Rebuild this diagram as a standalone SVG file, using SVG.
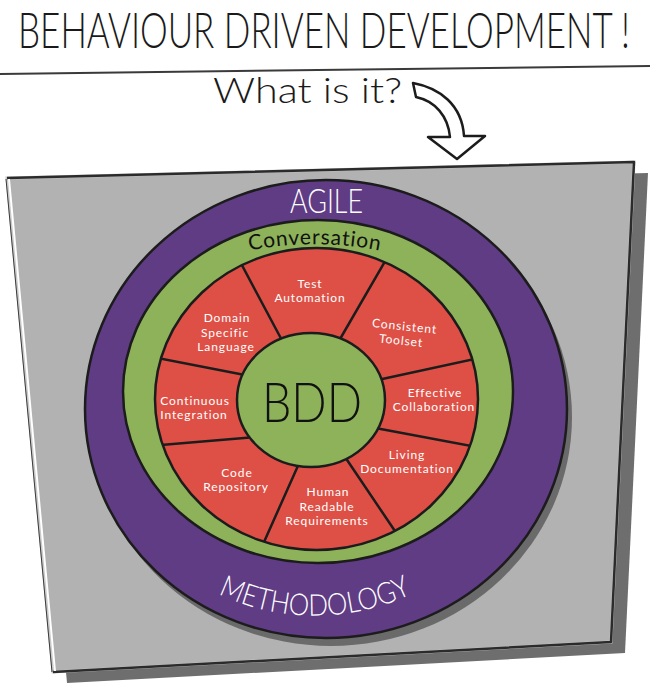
<svg xmlns="http://www.w3.org/2000/svg" width="650" height="691" viewBox="0 0 650 691">
  <style>
    .ink { fill: none; stroke: #1c1c1c; stroke-width: 2.5; stroke-linejoin: round; stroke-linecap: round; }
    .hand { font-family: "Lato", "Noto Sans", sans-serif; }
    .seg { font-family: "Lato", "Noto Sans", sans-serif; font-size: 12px; fill: #ffffff; text-anchor: middle; letter-spacing: 0.9px; }
    .divider { stroke: #1c1c1c; stroke-width: 2.5; stroke-linecap: round; }
  </style>
  <defs>
    <clipPath id="redClip">
      <ellipse cx="316.5" cy="399" rx="161.5" ry="151"/>
    </clipPath>
    <path id="convArc" d="M 235 254 A 330 330 0 0 1 395 254"/>
    <path id="methArc" d="M 205 587 A 225 225 0 0 0 425 587"/>
  </defs>

  <rect width="650" height="691" fill="#ffffff"/>

  <!-- heading: tall condensed capitals -->
  <g id="title">
    <text class="hand" transform="translate(18 48) scale(0.68 1)" x="0" y="0" font-size="50" font-weight="300" fill="#1a1a1a" textLength="900" lengthAdjust="spacingAndGlyphs">BEHAVIOUR DRIVEN DEVELOPMENT !</text>
    <line x1="0" y1="74" x2="650" y2="66" stroke="#3a3a3a" stroke-width="2"/>
  </g>

  <g id="subtitle">
    <text class="hand" x="213" y="103" font-size="36" font-weight="300" fill="#1a1a1a" textLength="189" lengthAdjust="spacingAndGlyphs">What is it?</text>
  </g>

  <!-- curved pointer from the question down to the board -->
  <g id="connectors">
    <path class="ink" d="M 413 83 C 440 88 462 105 464 136 L 485 136 L 457 159 L 428 137 L 450 137 C 448 116 435 101 416 97 Z" style="fill:#ffffff"/>
  </g>

  <!-- grey board with its drop shadow -->
  <g id="board">
    <polygon points="21,189 648,173 625,653 67,683" fill="#6e6e6e"/>
    <polygon points="7,178 634,162 611,642 53,672" fill="#b2b2b2" stroke="#c9c9c9" stroke-width="3"/>
    <polyline points="7,178 634,162 611,642 53,672" fill="none" stroke="#2b2b2b" stroke-width="2.5" stroke-linejoin="round"/>
    <line x1="9" y1="179" x2="55" y2="671" stroke="#ffffff" stroke-width="2"/>
    <line x1="6" y1="179" x2="52" y2="672" stroke="#3a3a3a" stroke-width="1"/>
  </g>

  <!-- outer ring: Agile methodology -->
  <g id="agile">
    <ellipse cx="331" cy="417" rx="241" ry="229" fill="#6a6a6a"/>
    <ellipse cx="326" cy="409" rx="241" ry="229" fill="#5f3c84"/>
    <ellipse class="ink" cx="326" cy="409" rx="241" ry="229"/>
    <text class="hand" x="290" y="213" font-size="34" font-weight="300" fill="#ffffff" textLength="73" lengthAdjust="spacingAndGlyphs">AGILE</text>
    <text class="hand" font-size="30" font-weight="300" fill="#ffffff">
      <textPath href="#methArc" startOffset="50%" text-anchor="middle" textLength="200" lengthAdjust="spacingAndGlyphs">METHODOLOGY</textPath>
    </text>
  </g>

  <!-- conversation ring -->
  <g id="conversation">
    <ellipse cx="318" cy="391.5" rx="195" ry="171.5" fill="#8db25a"/>
    <ellipse class="ink" cx="318" cy="391.5" rx="195" ry="171.5"/>
    <text class="hand" font-size="21" fill="#111111" letter-spacing="0.8">
      <textPath href="#convArc" startOffset="50%" text-anchor="middle">Conversation</textPath>
    </text>
  </g>

  <!-- practice segments -->
  <g id="practices-ring">
    <ellipse cx="316.5" cy="399" rx="161.5" ry="151" fill="#de5046"/>
  </g>

  <g id="dividers" clip-path="url(#redClip)">
    <line class="divider" x1="236" y1="254" x2="285" y2="346"/>
    <line class="divider" x1="391" y1="251" x2="336" y2="346"/>
    <line class="divider" x1="488" y1="356" x2="373" y2="381"/>
    <line class="divider" x1="487" y1="449" x2="370" y2="427"/>
    <line class="divider" x1="401" y1="540" x2="341" y2="451"/>
    <line class="divider" x1="260" y1="551" x2="301" y2="459"/>
    <line class="divider" x1="150" y1="446" x2="257" y2="437"/>
    <line class="divider" x1="147" y1="356" x2="250" y2="376"/>
  </g>
  <ellipse class="ink" cx="316.5" cy="399" rx="161.5" ry="151"/>

  <g id="test-automation">
    <text class="seg" x="310" y="287.5">Test</text>
    <text class="seg" x="310" y="302">Automation</text>
  </g>
  <g id="consistent-toolset" transform="rotate(6 404 332)">
    <text class="seg" x="404" y="330.5">Consistent</text>
    <text class="seg" x="402" y="345">Toolset</text>
  </g>
  <g id="effective-collaboration">
    <text class="seg" x="435" y="396.5">Effective</text>
    <text class="seg" x="434" y="411">Collaboration</text>
  </g>
  <g id="living-documentation">
    <text class="seg" x="407" y="458.5">Living</text>
    <text class="seg" x="407" y="473">Documentation</text>
  </g>
  <g id="human-readable-requirements">
    <text class="seg" x="328" y="496">Human</text>
    <text class="seg" x="327" y="510.5">Readable</text>
    <text class="seg" x="327" y="525">Requirements</text>
  </g>
  <g id="code-repository">
    <text class="seg" x="237" y="476.5">Code</text>
    <text class="seg" x="236" y="491">Repository</text>
  </g>
  <g id="continuous-integration">
    <text class="seg" x="195" y="404.5">Continuous</text>
    <text class="seg" x="194" y="419">Integration</text>
  </g>
  <g id="domain-specific-language">
    <text class="seg" x="227" y="322">Domain</text>
    <text class="seg" x="225" y="336.5">Specific</text>
    <text class="seg" x="226" y="351">Language</text>
  </g>

  <!-- core -->
  <g id="bdd">
    <ellipse cx="311" cy="400" rx="74" ry="67" fill="#8db25a"/>
    <ellipse class="ink" cx="311" cy="400" rx="74" ry="67"/>
    <text class="hand" x="262" y="422" font-size="56" font-weight="300" fill="#111111" textLength="100" lengthAdjust="spacingAndGlyphs">BDD</text>
  </g>
</svg>
